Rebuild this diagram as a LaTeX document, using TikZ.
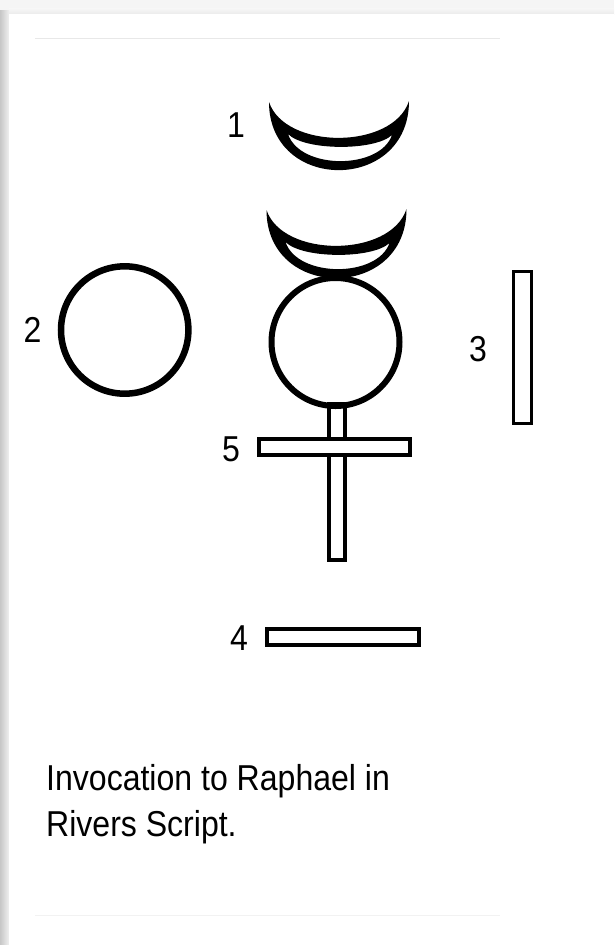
\documentclass[tikz,border=0pt]{standalone}
\usepackage{fontspec}
\setmainfont{Liberation Sans}[FakeStretch=0.89]
\tikzset{
  glyph/.style={line width=4pt, draw=black},
  lbl/.style={anchor=base, inner sep=0pt, font=\fontsize{36}{46}\selectfont},
  capt/.style={anchor=base west, inner sep=0pt, align=left, font=\fontsize{36}{46}\selectfont},
  rule/.style={line width=1pt, draw=black!9}
}
\newcommand{\crescentshape}{%
  \fill[black, even odd rule]
    (269,102) .. controls (269,193) and (409,193) .. (409,101)
              .. controls (393,150) and (285,150) .. cycle
    (288,134) .. controls (305,151) and (375,151) .. (392,135)
              .. controls (380,170) and (300,170) .. cycle;}
\begin{document}
\begin{tikzpicture}[x=1pt, y=-1pt]
\useasboundingbox (0,0) rectangle (614,945);
% page background and card
\fill[black!4] (0,0) rectangle (614,945);
\shade[left color=black!22, right color=black!6] (0,10) rectangle (9,945);
\shade[top color=black!3, bottom color=black!8] (9,8) rectangle (614,14);
\fill[white] (9,14) rectangle (614,945);
\draw[rule] (35,38.3) -- (500,38.3);
\draw[rule, draw=black!5] (35,915) -- (500,915);

% crescents
\crescentshape
\begin{scope}[shift={(-2.5,108)}]
  \crescentshape
\end{scope}

% stem and crossbar
\draw[glyph, fill=white] (329.3,404) rectangle (344.7,559.7);
% main circle
\draw[line width=6pt] (335.5,342) circle[radius=64];
\draw[glyph, fill=white] (259.3,438.7) rectangle (410.3,454.7);

% left circle
\draw[line width=6.5pt] (124.7,330) circle[radius=63.7];

% vertical bar (3)
\draw[line width=3pt] (513.2,271.5) rectangle (531.2,423.5);
% horizontal bar (4)
\draw[glyph] (267,628.7) rectangle (418.7,645.3);

% labels
\node[lbl] (l1) at (236,137) {1};
\node[lbl] (l2) at (32.5,342) {2};
\node[lbl] (l3) at (478,361.5) {3};
\node[lbl] (l4) at (239,650) {4};
\node[lbl] (l5) at (231,461.5) {5};

% caption (base = baseline of the last line)
\node[capt] (cap) at (46,836.7) {Invocation to Raphael in\\Rivers Script.};
\end{tikzpicture}
\end{document}
